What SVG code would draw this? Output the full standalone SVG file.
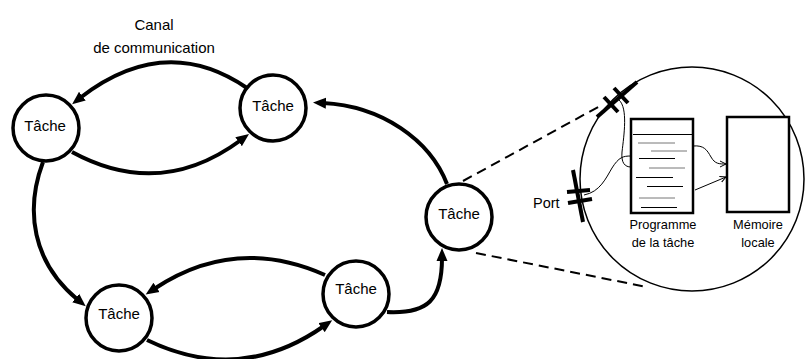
<svg xmlns="http://www.w3.org/2000/svg" width="807" height="359" viewBox="0 0 807 359">
<style>
.node circle{fill:#fff;stroke:#000;stroke-width:3.5}
.lbl{font-family:"Liberation Sans",Arial,sans-serif;fill:#000}
.nt{font-size:15px;text-anchor:middle}
.sm{font-size:12.8px;text-anchor:middle}
.edge{fill:none;stroke:#000;stroke-width:4}
.thin{fill:none;stroke:#000;stroke-width:1}
.dash{fill:none;stroke:#000;stroke-width:2;stroke-dasharray:10 6}
.bar{stroke:#000;stroke-width:4;stroke-linecap:butt}
</style>
<defs>
<marker id="ah" markerUnits="userSpaceOnUse" markerWidth="14" markerHeight="12" refX="3" refY="5.5" orient="auto" viewBox="0 0 14 11">
<path d="M0,0 L13,5.5 L0,11 z" fill="#000"/>
</marker>
<marker id="th" markerUnits="userSpaceOnUse" markerWidth="8" markerHeight="8" refX="6" refY="3" orient="auto" viewBox="0 0 8 6">
<path d="M0,0 L6,3 L0,6" fill="none" stroke="#000" stroke-width="1"/>
</marker>
</defs>
<rect width="807" height="359" fill="#fff"/>
<text class="lbl" x="154" y="30" font-size="15" text-anchor="middle">Canal</text>
<text class="lbl" x="154" y="53" font-size="15" text-anchor="middle">de communication</text>
<g id="connectors">
<path class="edge" d="M247,88 Q165,32 80,98" marker-end="url(#ah)"/>
<path class="edge" d="M72,152 Q160,200 241,140" marker-end="url(#ah)"/>
<path class="edge" d="M43,162 C25,210 32,262 78,300" marker-end="url(#ah)"/>
<path class="edge" d="M325,275 Q235,235 154,289" marker-end="url(#ah)"/>
<path class="edge" d="M147,340 Q240,385 324,326" marker-end="url(#ah)"/>
<path class="edge" d="M387,312 C428,314 442,300 442,258" marker-end="url(#ah)"/>
<path class="edge" d="M447,184 C430,140 382,106 323,103" marker-end="url(#ah)"/>
<path class="dash" d="M463,181 L600,106"/>
<path class="dash" d="M476,253 L647,287"/>
</g>
<g id="nodeA" class="node"><circle cx="46" cy="128" r="33"/><text class="lbl nt" x="45" y="131">Tâche</text></g>
<g id="nodeB" class="node"><circle cx="273" cy="108" r="33"/><text class="lbl nt" x="273" y="111">Tâche</text></g>
<g id="nodeC" class="node"><circle cx="119" cy="318" r="33"/><text class="lbl nt" x="119" y="319">Tâche</text></g>
<g id="nodeD" class="node"><circle cx="356" cy="294" r="33"/><text class="lbl nt" x="356" y="294">Tâche</text></g>
<g id="nodeE" class="node"><circle cx="459" cy="217" r="33"/><text class="lbl nt" x="459" y="219">Tâche</text></g>
<g id="detail">
<circle cx="692" cy="179" r="112" fill="none" stroke="#000" stroke-width="1.5"/>
<g id="program">
<rect x="631" y="119" width="62" height="94" fill="#fff" stroke="#000" stroke-width="2.5"/>
<line x1="633" y1="134.5" x2="692" y2="134.5" stroke="#000" stroke-width="1"/>
<line x1="638" y1="143" x2="675" y2="143" stroke="#777" stroke-width="1"/>
<line x1="651" y1="151" x2="687" y2="151" stroke="#777" stroke-width="1"/>
<line x1="639" y1="158.5" x2="675" y2="158.5" stroke="#000" stroke-width="1"/>
<line x1="649" y1="168" x2="685" y2="168" stroke="#777" stroke-width="1"/>
<line x1="636" y1="177.5" x2="673" y2="177.5" stroke="#000" stroke-width="1"/>
<line x1="647" y1="186.5" x2="683" y2="186.5" stroke="#000" stroke-width="1"/>
<line x1="639" y1="198" x2="675" y2="198" stroke="#777" stroke-width="1"/>
<line x1="641" y1="207.5" x2="677" y2="207.5" stroke="#000" stroke-width="1"/>
<text class="lbl sm" x="663" y="229">Programme</text>
<text class="lbl sm" x="663" y="247">de la tâche</text>
</g>
<g id="memory">
<rect x="727" y="117" width="62" height="95" fill="#fff" stroke="#000" stroke-width="2.5"/>
<text class="lbl sm" x="758" y="229">Mémoire</text>
<text class="lbl sm" x="758" y="247">locale</text>
</g>
<g id="ports">
<line class="bar" x1="597" y1="117" x2="637" y2="82"/>
<line class="bar" x1="604" y1="97" x2="618" y2="112"/>
<line class="bar" x1="614" y1="88" x2="628" y2="103"/>
<line class="bar" x1="573" y1="170" x2="583" y2="222"/>
<line class="bar" x1="567" y1="192" x2="590" y2="190"/>
<line class="bar" x1="568" y1="203" x2="592" y2="199"/>
<text class="lbl" x="533" y="208" font-size="14.5">Port</text>
</g>
<path class="thin" d="M619,100 C628,108 624,135 622,152 C621,163 625,167 631,167"/>
<path class="thin" d="M584,195 C600,192 606,178 612,168 C619,157 623,156 631,156"/>
<path class="thin" d="M693,146 C704,145 707,150 711,157 C715,164 719,164 726,164" marker-end="url(#th)"/>
<path class="thin" d="M695,190 L726,177" marker-end="url(#th)"/>
</g>
</svg>
